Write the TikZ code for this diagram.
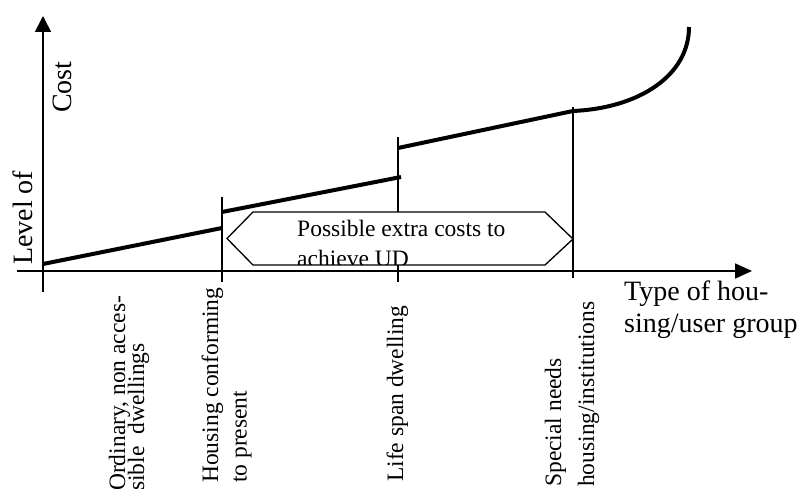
\documentclass[tikz,border=0pt]{standalone}
\usepackage{fontspec}
\setmainfont{Liberation Serif}
\usetikzlibrary{arrows.meta}
\begin{document}
\begin{tikzpicture}[x=1pt,y=-1pt,
  axis/.style={line width=1.7pt},
  tickline/.style={line width=1.5pt},
  costline/.style={line width=4pt},
  hexbox/.style={line width=1.3pt, fill=white},
  lbl/.style={inner sep=0pt, anchor=base west, font=\fontsize{23.5}{28}\selectfont},
  big/.style={inner sep=0pt, anchor=base west, font=\fontsize{28}{32}\selectfont},
  ]
\useasboundingbox (0,0) rectangle (808,494);
% axes
\coordinate (ytop) at (43,16);
\coordinate (ybot) at (43,292);
\coordinate (xl) at (17,271);
\coordinate (xr) at (752,271);
\draw[axis,-{Triangle[length=16pt,width=16pt]}] (ybot) -- (ytop);
\draw[axis,-{Triangle[length=17pt,width=15pt]}] (xl) -- (xr);
% ticks
\coordinate (t1a) at (222,197); \coordinate (t1b) at (222,282);
\coordinate (t2a) at (398,137); \coordinate (t2b) at (398,282);
\coordinate (t3a) at (573,107); \coordinate (t3b) at (573,278);
\draw[tickline] (t1a) -- (t1b);
\draw[tickline] (t2a) -- (t2b);
\draw[tickline] (t3a) -- (t3b);
% hexagon
\coordinate (h1) at (227,238.5);
\coordinate (h2) at (253,212);
\coordinate (h3) at (545,212);
\coordinate (h4) at (573,239);
\coordinate (h5) at (545,265);
\coordinate (h6) at (253,265);
\fill[white] (h1) -- (h2) -- (h3) -- (h4) -- (h5) -- (h6) -- cycle;
\begin{scope}
\clip (h1) -- (h2) -- (h3) -- (h4) -- (h5) -- (h6) -- cycle;
\node[lbl] (ux1) at (297,237) {Possible extra costs to};
\node[lbl] (ux2) at (297,266) {achieve UD};
\end{scope}
\draw[line width=1.3pt, line join=miter] (h1) -- (h2) -- (h3) -- (h4) -- (h5) -- (h6) -- cycle;
% cost lines
\coordinate (c1a) at (43,264); \coordinate (c1b) at (222,228);
\coordinate (c2a) at (222,212); \coordinate (c2b) at (401,177);
\coordinate (c3a) at (398,148); \coordinate (c3b) at (573,111);
\coordinate (c3e) at (689,27);
\draw[costline] (c1a) -- (c1b);
\draw[costline] (c2a) -- (c2b);
\draw[costline] (c3a) -- (c3b) .. controls (640,108) and (689,75) .. (c3e);
% axis labels
\node[big, rotate=90] (lev) at (32,265) {Level of};
\node[big, rotate=90] (cost) at (71.5,113) {Cost};
\node[big] (ty1) at (624,300) {Type of hou-};
\node[big] (ty2) at (624,332) {sing/user group};
% category labels
\node[lbl,rotate=90] (a1) at (125,491) {Ordinary, non acces-};
\node[lbl,rotate=90] (a2) at (144,491) {sible~ dwellings};
\node[lbl,rotate=90] (b1) at (218,483) {Housing conforming};
\node[lbl,rotate=90] (b2) at (246.5,483) {to present};
\node[lbl,rotate=90] (cc1) at (403,482) {Life span dwelling};
\node[lbl,rotate=90] (d1) at (561,487) {Special needs};
\node[lbl,rotate=90] (d2) at (594,487) {housing/institutions};
\end{tikzpicture}
\end{document}
